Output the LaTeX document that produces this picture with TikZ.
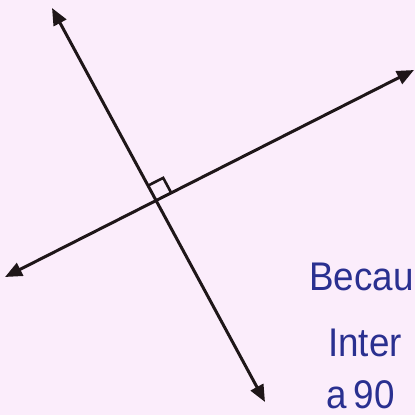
\documentclass[tikz,border=0pt]{standalone}
\usepackage{fontspec}
\setmainfont{Liberation Sans}
\usetikzlibrary{arrows.meta}
\definecolor{bg}{RGB}{251,237,251}
\definecolor{ink}{RGB}{30,22,24}
\definecolor{pen}{RGB}{42,48,144}
\tikzset{
  dline/.style={draw=ink, line width=3pt, {Triangle[length=17pt,width=14pt]}-{Triangle[length=17pt,width=14pt]}},
  rmark/.style={draw=ink, line width=2.6pt},
  hand/.style={text=pen, font=\fontsize{40}{44}\selectfont, inner sep=0pt, anchor=base west, xscale=0.92, text depth=0pt}
}
\begin{document}
\begin{tikzpicture}[x=1pt,y=-1pt]
\useasboundingbox (0,0) rectangle (415,415);
\clip (0,0) rectangle (415,415);
\fill[bg] (0,0) rectangle (415,415);
\coordinate (a1) at (52,8);
\coordinate (a2) at (265,402);
\coordinate (b1) at (5,277);
\coordinate (b2) at (414,70);
\coordinate (o) at (156.1,200.5);
\coordinate (ra) at (148.0,185.6);
\coordinate (rc) at (163.2,177.9);
\coordinate (rb) at (171.2,192.8);
\draw[dline] (a1) -- (a2);
\draw[dline] (b1) -- (b2);
\draw[rmark] (ra) -- (rc) -- (rb);
\node[hand] (t1) at (309,290) {Becau};
\node[hand] (t2) at (328,356) {Inter};
\node[hand] (t3) at (326,408) {a\hspace{0.2em}90};
\end{tikzpicture}
\end{document}
